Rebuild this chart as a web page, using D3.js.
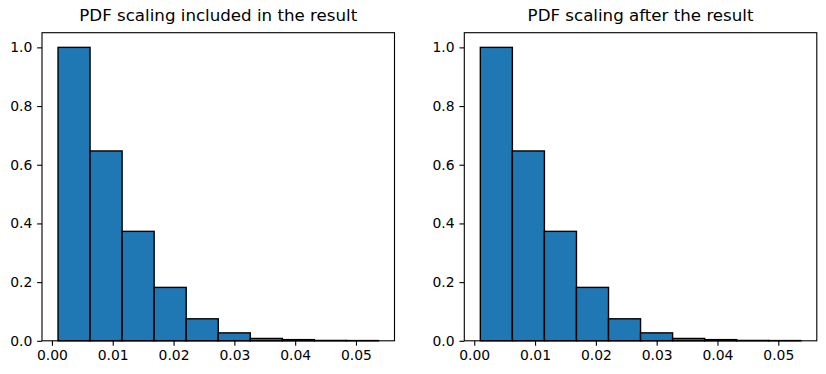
<!DOCTYPE html>
<html>
<head>
<meta charset="utf-8">
<script src="https://cdn.jsdelivr.net/npm/d3@7"></script>
<style>
  body { margin: 0; background: #fff; }
  svg text { font-family: "DejaVu Sans", sans-serif; fill: #000; }
</style>
</head>
<body>
<div id="chart"></div>
<script>
// bin edges shared by both histograms
var binEdges = [0.0010, 0.00627, 0.01154, 0.01681, 0.02208, 0.02735, 0.03262, 0.03789, 0.04316, 0.04843, 0.0537]
// normalised heights
var heightsIncluded = [1.0, 0.647, 0.373, 0.182, 0.075, 0.027, 0.008, 0.004, 0.0012, 0.0008]
var heightsAfter = [1.0, 0.647, 0.373, 0.182, 0.075, 0.027, 0.008, 0.004, 0.0012, 0.0008]
var titles = ["PDF scaling included in the result", "PDF scaling after the result"]
var xTicks = [0, 0.01, 0.02, 0.03, 0.04, 0.05]
var yTicks = [0, 0.2, 0.4, 0.6, 0.8, 1.0]

var width = 826
    height = 374
    panelW = 352.5
    panelTop = 32.7
    panelBottom = 340.8

var svg = d3.select("#chart")
  .append("svg")
    .attr("width", width)
    .attr("height", height)

function drawPanel(left, title, edges, heights) {
  var g = svg.append("g").attr("transform", "translate(" + left + ",0)")

  var span = edges[edges.length - 1] - edges[0]
  var x = d3.scaleLinear()
    .domain([edges[0] - span * 0.05, edges[edges.length - 1] + span * 0.05])
    .range([0, panelW])
  var y = d3.scaleLinear()
    .domain([0, d3.max(heights) * 1.05])
    .range([panelBottom, panelTop])

  var bins = heights.map(function(h, i) { return {x0: edges[i], x1: edges[i + 1], h: h} })

  g.selectAll("rect.bar")
    .data(bins)
    .enter()
    .append("rect")
      .attr("class", "bar")
      .attr("x", function(d) { return x(d.x0) })
      .attr("width", function(d) { return x(d.x1) - x(d.x0) })
      .attr("y", function(d) { return y(d.h) })
      .attr("height", function(d) { return y(0) - y(d.h) })
      .attr("fill", "#1f77b4")
      .attr("stroke", "#000")
      .attr("stroke-width", 1.39)

  // frame
  g.append("rect")
    .attr("x", 0)
    .attr("y", panelTop)
    .attr("width", panelW)
    .attr("height", panelBottom - panelTop)
    .attr("fill", "none")
    .attr("stroke", "#000")
    .attr("stroke-width", 1.11)

  var xAxis = g.append("g")
    .attr("transform", "translate(0," + panelBottom + ")")
    .call(d3.axisBottom(x).tickValues(xTicks).tickFormat(d3.format(".2f")).tickSize(4.86).tickPadding(4.2))
  var yAxis = g.append("g")
    .call(d3.axisLeft(y).tickValues(yTicks).tickFormat(d3.format(".1f")).tickSize(4.86).tickPadding(4.86))

  ;[xAxis, yAxis].forEach(function(a) {
    a.select(".domain").remove()
    a.selectAll("line").attr("stroke", "#000").attr("stroke-width", 1.11)
    a.selectAll("text").style("font-family", "DejaVu Sans").style("font-size", "13.9px").attr("fill", "#000")
  })

  g.append("text")
    .attr("x", panelW / 2)
    .attr("y", 21)
    .attr("text-anchor", "middle")
    .style("font-size", "16.67px")
    .text(title)
}

drawPanel(42, titles[0], binEdges, heightsIncluded)
drawPanel(464.3, titles[1], binEdges, heightsAfter)
</script>
</body>
</html>
